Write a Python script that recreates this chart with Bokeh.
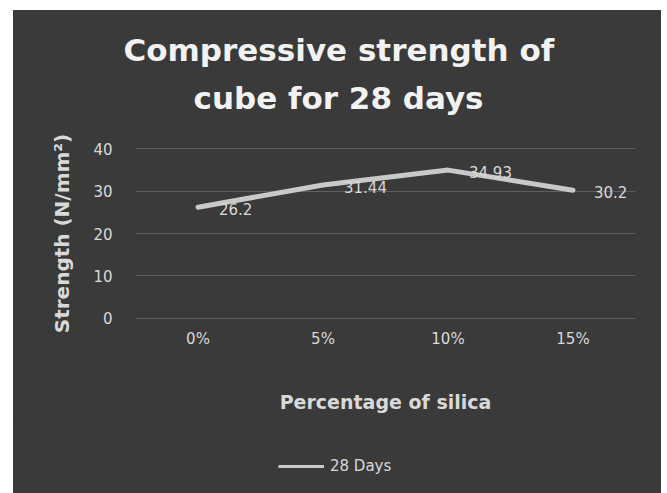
from bokeh.plotting import figure
from bokeh.layouts import column
from bokeh.models import Range1d, FactorRange, Title, Legend, LegendItem, FixedTicker
from bokeh.core.properties import value
from bokeh.embed import file_html
from bokeh.resources import INLINE

categories = ["0%", "5%", "10%", "15%"]
strength_28 = [26.2, 31.44, 34.93, 30.2]
value_labels = ["26.2", "31.44", "34.93", "30.2"]
y_ticks = [0, 10, 20, 30, 40]
series_name = "28 Days"

BG = "#3a3a3a"
TXT = "#d9d9d9"
LINE = "#c9c9c9"
FONT = "DejaVu Sans"

p = figure(frame_width=500, frame_height=172, x_range=FactorRange(*categories, range_padding=0),
           y_range=Range1d(-0.25, 40.25), output_backend="svg", toolbar_location=None,
           min_border_left=122, min_border_right=26, min_border_top=137, min_border_bottom=99)
p.border_fill_color = BG
p.background_fill_color = BG
p.outline_line_color = None

r = p.line(x=categories, y=strength_28, line_width=5, line_color=LINE,
           line_join="round", line_cap="round")
p.text(x=categories, y=strength_28, text=value_labels, x_offset=21, y_offset=2,
       text_align="left", text_baseline="middle", text_color=TXT,
       text_font=value(FONT), text_font_size="15px")

# titles (first added sits closest to the plot)
p.add_layout(Title(text="cube for 28 days", align="left", offset=58, text_font=FONT,
                   text_font_size="31px", text_font_style="bold", text_color="#f2f2f2",
                   standoff=64), "above")
p.add_layout(Title(text="Compressive strength of", align="left", offset=-12, text_font=FONT,
                   text_font_size="31px", text_font_style="bold", text_color="#f2f2f2",
                   standoff=-44), "above")

p.xaxis.axis_label = "Percentage of silica"
p.yaxis.axis_label = "Strength (N/mm²)"
for ax in (p.xaxis, p.yaxis):
    ax.axis_line_color = None
    ax.major_tick_line_color = None
    ax.minor_tick_line_color = None
    ax.major_tick_out = 0
    ax.major_tick_in = 0
    ax.major_label_text_color = TXT
    ax.major_label_text_font = FONT
    ax.axis_label_text_color = TXT
    ax.axis_label_text_font = FONT
    ax.axis_label_text_font_style = "bold"
p.xaxis.axis_label_text_font_size = "19px"
p.yaxis.axis_label_text_font_size = "20px"
p.xaxis.major_label_text_font_size = "15px"
p.yaxis.major_label_text_font_size = "15px"
p.xaxis.major_label_standoff = 10
p.xaxis.axis_label_standoff = 40
p.yaxis.major_label_standoff = 23
p.yaxis.axis_label_standoff = 16
p.yaxis.ticker = FixedTicker(ticks=y_ticks)

p.xgrid.grid_line_color = None
p.ygrid.grid_line_color = "#5e5e5e"
p.ygrid.grid_line_width = 1

# legend strip below the chart (series drawn out of view; only its legend entry shows)
p2 = figure(width=648, height=75, x_range=FactorRange(*categories, range_padding=0),
            y_range=Range1d(100, 101), output_backend="svg", toolbar_location=None,
            min_border=0, x_axis_location=None, y_axis_location=None)
p2.border_fill_color = BG
p2.background_fill_color = BG
p2.outline_line_color = None
p2.grid.grid_line_color = None
r2 = p2.line(x=categories, y=strength_28, line_width=3, line_color=LINE)
legend = Legend(items=[LegendItem(label=series_name, renderers=[r2])], location=(143, 17),
                orientation="horizontal", background_fill_alpha=0, border_line_color=None,
                label_text_color=TXT, label_text_font=FONT, label_text_font_size="15px",
                glyph_width=46, margin=0, padding=4, label_standoff=6)
p2.add_layout(legend)

layout = column(p, p2, spacing=0, margin=(10, 6, 0, 13), background=BG)
open("out.html", "w").write(file_html(layout, INLINE))
